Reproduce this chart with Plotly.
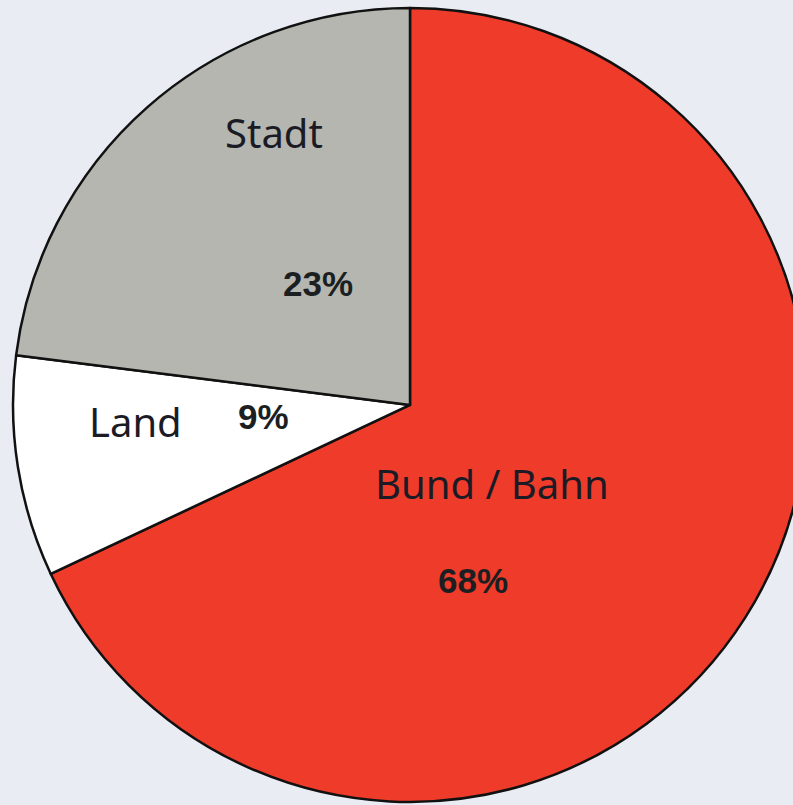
import plotly.graph_objects as go

labels = ["Bund / Bahn", "Land", "Stadt"]
values = [68, 9, 23]
colors = ["#ef3b29", "#ffffff", "#b5b6b0"]

# label / percentage anchor positions in pixels (centre of text)
W, H = 810, 805
name_pos = [(492, 483), (135, 421), (274, 132)]
pct_pos = [(473, 580), (263, 416), (318, 283)]

fig = go.Figure(go.Pie(
    labels=labels, values=values, sort=False, direction="clockwise", rotation=0,
    marker=dict(colors=colors, line=dict(color="#111111", width=2.5)),
    textinfo="none", hoverinfo="label+percent", showlegend=False,
    domain=dict(x=[13 / W, 807 / W], y=[0, 0.994]),
))

ann = []
for lab, v, (nx, ny), (px, py) in zip(labels, values, name_pos, pct_pos):
    ann.append(dict(x=nx / W, y=1 - ny / H, xref="paper", yref="paper", text=lab,
                    showarrow=False, xanchor="center", yanchor="middle",
                    font=dict(family="Noto Sans", size=40, color="#1b1b26")))
    ann.append(dict(x=px / W, y=1 - py / H, xref="paper", yref="paper", text=f"{v}%",
                    showarrow=False, xanchor="center", yanchor="middle",
                    font=dict(family="Liberation Sans", size=35, color="#1c1f22", weight="bold")))

fig.update_layout(
    width=W, height=H, margin=dict(l=0, r=0, t=0, b=0),
    paper_bgcolor="#e9ecf2", plot_bgcolor="#e9ecf2",
    annotations=ann,
)
fig.write_html("out.html", config={"displayModeBar": False},
               post_script="document.body.style.margin='0';document.body.style.overflow='hidden';")
